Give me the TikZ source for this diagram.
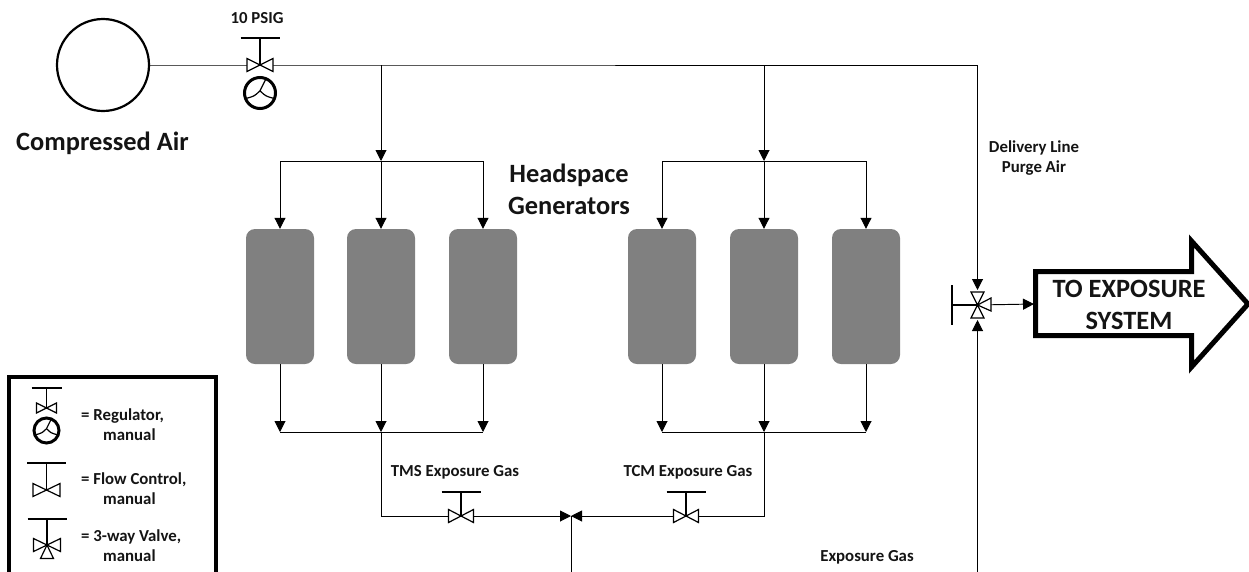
\documentclass[tikz,border=0pt]{standalone}
\usepackage{fontspec}
\setmainfont{Carlito}
\usetikzlibrary{arrows.meta,calc}
\definecolor{gray50}{gray}{0.5}
\tikzset{
 x=1pt,y=-1pt,
 pipe/.style={draw=black,line width=0.95pt},
 flow/.style={pipe,-{Triangle[length=11pt,width=11pt]}},
 gen/.style={fill=gray50,draw=none,rounded corners=9pt,minimum width=68pt,minimum height=135pt,inner sep=0pt},
 lbl/.style={font=\bfseries\fontsize{16.8}{20}\selectfont,text=black!92,align=center,inner sep=0pt},
 big/.style={font=\bfseries\fontsize{26.4}{32}\selectfont,text=black!92,align=center,inner sep=0pt},
 leg/.style={font=\bfseries\fontsize{16.8}{20}\selectfont,text=black!92,align=left,inner sep=0pt,anchor=west},
 pics/bowtie/.style args={#1/#2/#3}{code={
   \draw[line width=1.2pt,fill=white] (-#1,-#2)--(#1,#2)--(#1,-#2)--(-#1,#2)--cycle;
   \draw[line width=1.4pt] (0,0)--(0,-#3) (-#2*3,-#3)--(#2*3,-#3);
 }},
 pics/threeway/.style args={#1/#2/#3}{code={
   \draw[line width=1.2pt,fill=white] (-#1,-#2)--(#1,#2)--(#1,-#2)--(-#1,#2)--cycle;
   \draw[line width=1.2pt,fill=white] (0,0)--(-#2,#1)--(#2,#1)--cycle;
   \draw[line width=1.4pt] (0,0)--(0,-#3) (-#2*3,-#3)--(#2*3,-#3);
 }},
 pics/gaugeface/.style={code={
   \draw[line width=3pt,fill=white] (0,0) circle (#1);
   \draw[line width=1.2pt] (0,-#1*.15)--(#1*.35,-#1*.85) (0,-#1*.15) .. controls (-#1*.35,#1*.2) .. (-#1*.9,#1*.35) (0,-#1*.15) .. controls (#1*.35,#1*.2) .. (#1*.9,#1*.35);
 }},
}
\begin{document}
\begin{tikzpicture}
\useasboundingbox (0,0) rectangle (1249,571);
\clip (0,0) rectangle (1249,571);
% source and main line
\node[circle,draw,line width=2.2pt,minimum size=92pt,inner sep=0pt] (air) at (103,65) {};
\node[big] (airlbl) at (102.5,143) {Compressed Air};
\coordinate (v1) at (260,65);
\coordinate (t1) at (381,65);
\coordinate (t2) at (764,65);
\coordinate (corner) at (977.5,65);
\coordinate (w) at (977.5,305);
\draw[pipe] (air) -- (v1) -- (corner);
\draw[flow] (corner) -- ($(w)+(0,-15)$);
\pic at (260,93) {gaugeface=15.5};
\pic at (v1) {bowtie={13/6.5/27}};
\node[lbl] (psig) at (257,18) {10 PSIG};
% generators
\foreach \n/\x in {a/280,b/381,c/483,d/662,e/764,f/866}{
  \node[gen] (\n) at (\x,296.5) {};
}
\coordinate (ht1) at (381,161); \coordinate (ht2) at (764,161);
\coordinate (hb1) at (381,432); \coordinate (hb2) at (764,432);
\draw[flow] (t1) -- (ht1);
\draw[flow] (t2) -- (ht2);
\foreach \n/\h in {a/ht1,b/ht1,c/ht1,d/ht2,e/ht2,f/ht2}{
  \draw[flow] (\h -| \n) -- (\n.north);
}
\draw[pipe] (ht1 -| a) -- (ht1 -| c);
\draw[pipe] (ht2 -| d) -- (ht2 -| f);
\foreach \n/\h in {a/hb1,b/hb1,c/hb1,d/hb2,e/hb2,f/hb2}{
  \draw[flow] (\n.south) -- (\h -| \n);
}
\draw[pipe] (hb1 -| a) -- (hb1 -| c);
\draw[pipe] (hb2 -| d) -- (hb2 -| f);
\node[big] (hs) at (569,189) {Headspace\\Generators};
% exposure gas
\coordinate (v2) at (461,516); \coordinate (v3) at (686,516);
\coordinate (jn) at (571,516);
\coordinate (bl) at (381,516); \coordinate (br) at (764,516);
\draw[pipe] (hb1) -- (bl) -- (v2);
\draw[pipe] (hb2) -- (br) -- (v3);
\draw[flow] (v2) -- (jn);
\draw[flow] (v3) -- (jn);
\coordinate (bot) at (571,575);
\draw[pipe] (bot) -- (jn);
\pic at (v2) {bowtie={12.5/6.5/24}};
\pic at (v3) {bowtie={12.5/6.5/24}};
\node[lbl] (tms) at (455,472) {TMS Exposure Gas};
\node[lbl] (tcm) at (688,472) {TCM Exposure Gas};
\node[lbl] (eg) at (867,557) {Exposure Gas};
\node[lbl,align=center] (dl) at (1034,158) {Delivery Line\\Purge Air};
% three-way and exit
\coordinate (bot2) at (977.5,575);
\draw[flow] (bot2) -- ($(w)+(0,15)$);
\coordinate (ar) at (1034,304);
\draw[flow] (w) -- (ar);
\draw[line width=1.2pt,fill=white] (w)--(991,298)--(991,311)--cycle;
\draw[line width=1.2pt,fill=white] (w)--(971,292)--(984,292)--cycle;
\draw[line width=1.2pt,fill=white] (w)--(971,318)--(984,318)--cycle;
\draw[line width=1.4pt] (w)--(952,305) (952,285)--(952,325);
\draw[line width=5pt,miter limit=10,fill=white] (1035.5,271.5)--(1191.5,271.5)--(1191.5,241)--(1248,304)--(1191.5,367)--(1191.5,335.5)--(1035.5,335.5)--cycle;
\node[big] (ex) at (1129,305) {TO EXPOSURE\\SYSTEM};
% legend
\draw[line width=4pt] (9,590)--(9,377)--(216,377)--(216,590);
\pic at (46.5,430.5) {gaugeface=12.5};
\pic at (46.5,408) {bowtie={10/5/20}};
\pic at (46.5,490) {bowtie={13.5/6.5/27}};
\pic at (47,545) {threeway={13.5/6.5/26}};
\node[leg] (l1) at (81,425) {= Regulator,\\\hspace*{22pt}manual};
\node[leg] (l2) at (81,489) {= Flow Control,\\\hspace*{22pt}manual};
\node[leg] (l3) at (81,546) {= 3-way Valve,\\\hspace*{22pt}manual};
\end{tikzpicture}
\end{document}
